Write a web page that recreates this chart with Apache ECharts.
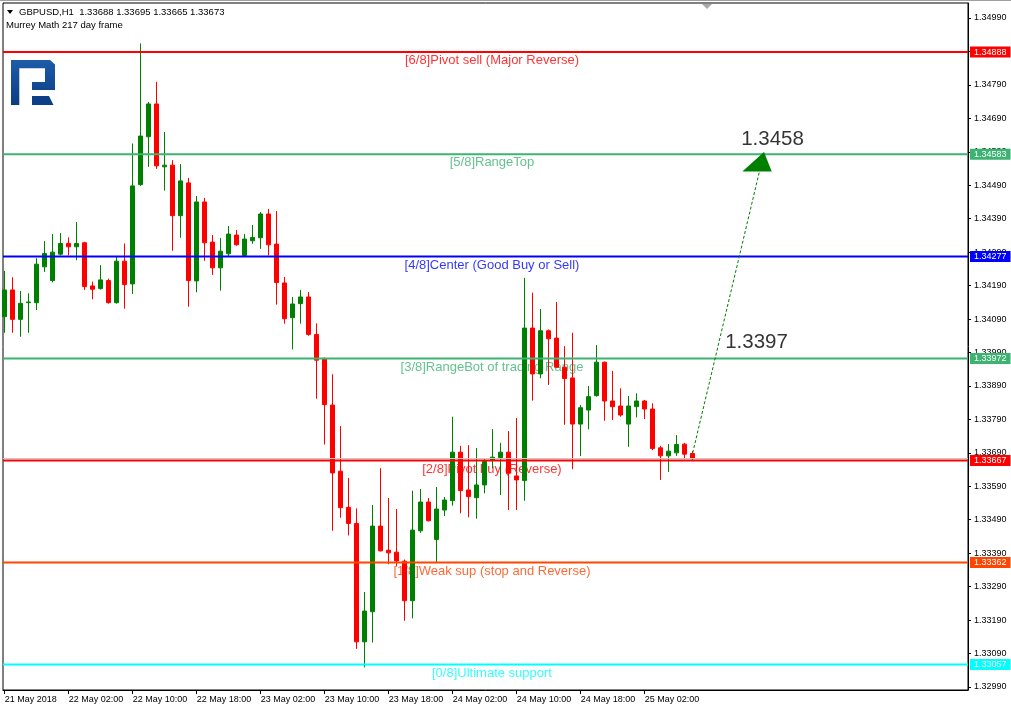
<!DOCTYPE html>
<html>
<head>
<meta charset="utf-8">
<script src="https://cdn.jsdelivr.net/npm/echarts@6/dist/echarts.min.js"></script>
<style>
html,body{margin:0;padding:0;background:#fff;}
#chart{width:1011px;height:710px;}
</style>
</head>
<body>
<div id="chart"></div>
<script>
// ---- data ----
const symbolTitle = 'GBPUSD,H1  1.33688 1.33695 1.33665 1.33673';
const indicatorTitle = 'Murrey Math 217 day frame';

// hourly candles from 21 May 2018 18:00, each [open, close, low, high]
const candles = [
  [1.34097, 1.34177, 1.34049, 1.34234],
  [1.34177, 1.34089, 1.34049, 1.34215],
  [1.34089, 1.34137, 1.34037, 1.34174],
  [1.34139, 1.34141, 1.34049, 1.34167],
  [1.34139, 1.34254, 1.34117, 1.34272],
  [1.34246, 1.34286, 1.34231, 1.34323],
  [1.34205, 1.34290, 1.34200, 1.34344],
  [1.34284, 1.34316, 1.34280, 1.34347],
  [1.34316, 1.34306, 1.34280, 1.34334],
  [1.34306, 1.34316, 1.34266, 1.34380],
  [1.34318, 1.34187, 1.34177, 1.34321],
  [1.34189, 1.34179, 1.34149, 1.34202],
  [1.34181, 1.34207, 1.34178, 1.34251],
  [1.34205, 1.34139, 1.34136, 1.34211],
  [1.34139, 1.34263, 1.34136, 1.34276],
  [1.34263, 1.34193, 1.34121, 1.34316],
  [1.34195, 1.34488, 1.34165, 1.34615],
  [1.34492, 1.34637, 1.34488, 1.34914],
  [1.34635, 1.34733, 1.34545, 1.34739],
  [1.34733, 1.34548, 1.34539, 1.34799],
  [1.34545, 1.34550, 1.34474, 1.34649],
  [1.34550, 1.34399, 1.34294, 1.34565],
  [1.34399, 1.34503, 1.34333, 1.34553],
  [1.34497, 1.34205, 1.34127, 1.34512],
  [1.34204, 1.34440, 1.34170, 1.34458],
  [1.34440, 1.34318, 1.34264, 1.34452],
  [1.34320, 1.34243, 1.34222, 1.34341],
  [1.34243, 1.34293, 1.34175, 1.34332],
  [1.34285, 1.34344, 1.34278, 1.34368],
  [1.34341, 1.34312, 1.34309, 1.34356],
  [1.34280, 1.34329, 1.34278, 1.34344],
  [1.34324, 1.34334, 1.34315, 1.34371],
  [1.34333, 1.34404, 1.34300, 1.34410],
  [1.34404, 1.34312, 1.34280, 1.34419],
  [1.34314, 1.34199, 1.34133, 1.34413],
  [1.34198, 1.34091, 1.34076, 1.34216],
  [1.34094, 1.34135, 1.33999, 1.34156],
  [1.34136, 1.34156, 1.34076, 1.34177],
  [1.34156, 1.34044, 1.34040, 1.34171],
  [1.34044, 1.33967, 1.33852, 1.34077],
  [1.33972, 1.33834, 1.33715, 1.33975],
  [1.33833, 1.33630, 1.33457, 1.33925],
  [1.33635, 1.33526, 1.33496, 1.33770],
  [1.33527, 1.33479, 1.33443, 1.33615],
  [1.33479, 1.33125, 1.33104, 1.33524],
  [1.33125, 1.33217, 1.33049, 1.33274],
  [1.33215, 1.33471, 1.33123, 1.33534],
  [1.33471, 1.33397, 1.33395, 1.33644],
  [1.33399, 1.33391, 1.33357, 1.33555],
  [1.33393, 1.33367, 1.33352, 1.33522],
  [1.33366, 1.33248, 1.33188, 1.33371],
  [1.33248, 1.33459, 1.33195, 1.33577],
  [1.33457, 1.33543, 1.33451, 1.33582],
  [1.33543, 1.33487, 1.33485, 1.33555],
  [1.33431, 1.33522, 1.33360, 1.33588],
  [1.33519, 1.33549, 1.33501, 1.33558],
  [1.33547, 1.33692, 1.33532, 1.33798],
  [1.33692, 1.33577, 1.33509, 1.33711],
  [1.33579, 1.33559, 1.33497, 1.33713],
  [1.33556, 1.33594, 1.33493, 1.33704],
  [1.33594, 1.33664, 1.33569, 1.33671],
  [1.33668, 1.33677, 1.33644, 1.33761],
  [1.33676, 1.33692, 1.33564, 1.33720],
  [1.33692, 1.33629, 1.33519, 1.33755],
  [1.33621, 1.33609, 1.33519, 1.33794],
  [1.33607, 1.34063, 1.33547, 1.34213],
  [1.34063, 1.33926, 1.33846, 1.34169],
  [1.33926, 1.34055, 1.33913, 1.34120],
  [1.34055, 1.34031, 1.33893, 1.34059],
  [1.34033, 1.33946, 1.33944, 1.34141],
  [1.33946, 1.33912, 1.33774, 1.34009],
  [1.33914, 1.33776, 1.33641, 1.34049],
  [1.33776, 1.33825, 1.33680, 1.33833],
  [1.33818, 1.33858, 1.33760, 1.33890],
  [1.33861, 1.33961, 1.33858, 1.34012],
  [1.33961, 1.33845, 1.33786, 1.33963],
  [1.33845, 1.33828, 1.33788, 1.33935],
  [1.33830, 1.33803, 1.33798, 1.33883],
  [1.33776, 1.33830, 1.33708, 1.33860],
  [1.33828, 1.33845, 1.33796, 1.33868],
  [1.33845, 1.33821, 1.33791, 1.33848],
  [1.33821, 1.33703, 1.33698, 1.33838],
  [1.33705, 1.33681, 1.33609, 1.33711],
  [1.33681, 1.33695, 1.33633, 1.33716],
  [1.33690, 1.33715, 1.33681, 1.33743],
  [1.33716, 1.33686, 1.33671, 1.33720],
  [1.33688, 1.33673, 1.33665, 1.33695]
];

const xTickIndex = [0, 8, 16, 24, 32, 40, 48, 56, 64, 72, 80];
const xTickLabels = ['21 May 2018', '22 May 02:00', '22 May 10:00', '22 May 18:00', '23 May 02:00',
  '23 May 10:00', '23 May 18:00', '24 May 02:00', '24 May 10:00', '24 May 18:00', '25 May 02:00'];

const yTickLabels = ['1.32990', '1.33090', '1.33190', '1.33290', '1.33390', '1.33490', '1.33590',
  '1.33690', '1.33790', '1.33890', '1.33990', '1.34090', '1.34190', '1.34290', '1.34390',
  '1.34490', '1.34590', '1.34690', '1.34790', '1.34890', '1.34990'];

const levelValues = [1.34888, 1.34583, 1.34277, 1.33972, 1.33667, 1.33362, 1.33057];
const levelNames = ['[6/8]Pivot sell (Major Reverse)', '[5/8]RangeTop', '[4/8]Center (Good Buy or Sell)',
  '[3/8]RangeBot of trading Range', '[2/8]Pivot buy (Reverse)', '[1/8]Weak sup (stop and Reverse)',
  '[0/8]Ultimate support'];
const levelColors = ['#ff0000', '#3cb371', '#0000ff', '#3cb371', '#ff0000', '#ff4500', '#00ffff'];
const bidPrice = 1.33673;

const arrowLine = [[86.0, 1.33690], [94.33, 1.34530]];
const arrowHead = [94.04, 1.34560];
const targetLabels = [[95.98, 1.34628, '1.3458'], [93.98, 1.34020, '1.3397']];

// ---- chart ----
const FONT = 'Liberation Sans, Arial, sans-serif';
const X_MIN = -0.2125, X_MAX = 120.4125;   // axis limits (hour slots)
const LABEL_X = 60.91;                     // slot where level captions are centred
const chart = echarts.init(document.getElementById('chart'), null, {renderer: 'canvas'});

const candleData = candles.map((c, i) => [i, c[0], c[1], c[2], c[3]]);

const logoFill = {type: 'linear', x: 0, y: 0, x2: 0, y2: 1,
  colorStops: [{offset: 0, color: '#1d5ca8'}, {offset: 1, color: '#0b3c82'}]};

const levelLineSeries = levelValues.map((v, i) => ({
  type: 'line', z: 5, silent: true, symbol: 'none', showSymbol: false, clip: false,
  data: [[X_MIN, v], [X_MAX, v]],
  lineStyle: {color: levelColors[i], width: 2},
  endLabel: {
    show: true, formatter: v.toFixed(5), distance: 2,
    backgroundColor: levelColors[i], color: '#ffffff', fontSize: 9, fontFamily: FONT,
    padding: [1, 4, 0, 4], lineHeight: 10
  }
}));

const option = {
  animation: false,
  backgroundColor: '#ffffff',
  grid: {left: 3, top: 3, right: 43, bottom: 20, show: true, borderColor: '#000', borderWidth: 1, backgroundColor: '#fff'},
  xAxis: {
    type: 'value', min: X_MIN, max: X_MAX,
    axisLine: {show: true, onZero: false, lineStyle: {color: '#000', width: 1}},
    axisTick: {show: true, customValues: xTickIndex, length: 4, lineStyle: {color: '#000'}},
    axisLabel: {
      show: true, customValues: xTickIndex, align: 'left', margin: 5,
      fontSize: 9, fontFamily: FONT, color: '#000',
      formatter: v => xTickLabels[xTickIndex.indexOf(Math.round(v))] || ''
    },
    splitLine: {show: false}
  },
  yAxis: {
    type: 'value', position: 'right', min: 1.32981, max: 1.350348, scale: true,
    axisLine: {show: true, onZero: false, lineStyle: {color: '#000', width: 1}},
    axisTick: {show: true, customValues: yTickLabels.map(Number), length: 3, lineStyle: {color: '#000'}},
    axisLabel: {
      show: true, customValues: yTickLabels.map(Number), margin: 6,
      fontSize: 9, fontFamily: FONT, color: '#000',
      formatter: v => v.toFixed(5)
    },
    splitLine: {show: false}
  },
  series: [
    { // level captions (behind candles)
      type: 'scatter', z: 1, silent: true, symbolSize: 0,
      data: levelValues.map((v, i) => ({
        value: [LABEL_X, v], name: levelNames[i],
        label: {color: levelColors[i]}
      })),
      label: {show: true, position: 'bottom', distance: 2, formatter: p => p.name, fontSize: 13, fontFamily: FONT}
    },
    {
      type: 'candlestick', z: 2, clip: true,
      data: candleData,
      encode: {x: 0, y: [1, 2, 3, 4]},
      barWidth: 4,
      itemStyle: {color: '#008000', color0: '#ff0000', borderColor: '#008000', borderColor0: '#ff0000', borderWidth: 1}
    },
    { // bid line
      type: 'line', z: 4, silent: true, symbol: 'none', showSymbol: false,
      data: [[X_MIN, bidPrice], [X_MAX, bidPrice]],
      lineStyle: {color: '#c8c8c8', width: 1}
    }
  ].concat(levelLineSeries, [
    { // forecast arrow
      type: 'line', z: 6, data: arrowLine, symbol: 'none', silent: true,
      lineStyle: {color: '#008000', width: 1, type: [3, 2]}
    },
    {
      type: 'scatter', z: 6, silent: true,
      data: [arrowHead],
      symbol: 'path://M21.7,0 L29.4,19.4 L0,19.4 Z',
      symbolSize: [29.4, 19.4],
      itemStyle: {color: '#008000', opacity: 1}
    },
    {
      type: 'scatter', z: 7, silent: true, symbolSize: 0,
      data: targetLabels.map(t => ({value: [t[0], t[1]], name: t[2]})),
      label: {show: true, position: 'inside', formatter: p => p.name, color: '#000', fontSize: 20.5, fontFamily: FONT}
    }
  ]),
  graphic: [
    {type: 'rect', shape: {x: 0, y: 0, width: 1011, height: 1}, style: {fill: '#a0a0a0'}, silent: true, z: 100},
    {type: 'polygon', shape: {points: [[702, 4], [712, 4], [707, 9]]}, style: {fill: '#a9a9a9'}, silent: true, z: 100},
    {type: 'polygon', shape: {points: [[7, 10], [13, 10], [10, 14]]}, style: {fill: '#000'}, silent: true, z: 100},
    {type: 'text', x: 19, y: 12, style: {text: symbolTitle, fill: '#000', font: '9.5px ' + FONT, textVerticalAlign: 'middle'}, silent: true, z: 100},
    {type: 'text', x: 6, y: 25, style: {text: indicatorTitle, fill: '#000', font: '9.5px ' + FONT, textVerticalAlign: 'middle'}, silent: true, z: 100},
    {type: 'polygon', silent: true, z: 100,
      shape: {points: [[11, 60], [50, 60], [55, 64.5], [55, 90], [32, 90], [32, 82], [45, 82], [45, 68.3], [19.3, 68.3], [19.3, 105], [11, 105]]},
      style: {fill: logoFill}},
    {type: 'polygon', silent: true, z: 100,
      shape: {points: [[32, 96], [49, 96], [53.5, 105], [32, 105]]},
      style: {fill: '#0d3f86'}}
  ]
};
chart.setOption(option);
</script>
</body>
</html>
